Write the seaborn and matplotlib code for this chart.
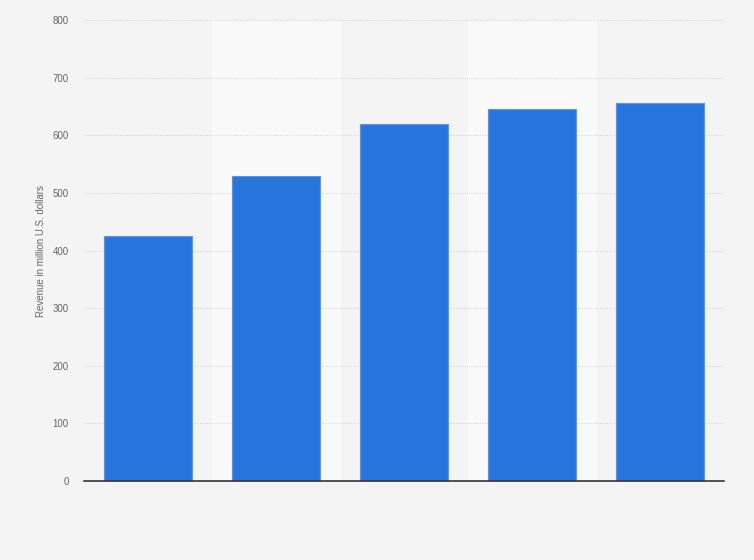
import matplotlib
matplotlib.use("Agg")
import matplotlib.pyplot as plt
import seaborn as sns
import pandas as pd

# Data (no category labels shown)
categories = ["A", "B", "C", "D", "E"]
revenue = [425, 530, 619, 646, 656]
y_ticks = [0, 100, 200, 300, 400, 500, 600, 700, 800]

df = pd.DataFrame({"category": categories, "revenue": revenue})

sns.set_style("white")
plt.rcParams['font.family'] = ['Liberation Sans', 'DejaVu Sans']

fig = plt.figure(figsize=(7.54, 5.60), dpi=100)
fig.patch.set_facecolor("#f4f4f4")
ax = fig.add_axes([0.1114, 0.141, 0.8488, 0.823])
ax.set_facecolor("#f4f4f4")

# alternating light bands behind the odd categories
for i in range(len(categories)):
    if i % 2 == 1:
        ax.axvspan(i - 0.5, i + 0.5, color="#f9f9f9", zorder=0)

sns.barplot(data=df, x="category", y="revenue", color="#2876dd",
            width=0.69, saturation=1, edgecolor="#5a95e6", linewidth=0.8,
            ax=ax, zorder=3)

ax.set_xlim(-0.5, len(categories) - 0.5)
ax.set_ylim(0, 800)
ax.set_yticks(y_ticks)
ax.yaxis.grid(True, linestyle=(0, (1, 1)), color="#d9d9d9", linewidth=0.8)
ax.set_axisbelow(True)
ax.tick_params(axis="y", length=0, labelsize=7, labelcolor="#666666", pad=11)
ax.tick_params(axis="x", length=0, labelbottom=False)
ax.set_xlabel("")
ax.set_ylabel("Revenue in million U.S. dollars", fontsize=7, color="#666666", labelpad=5)

for side in ["top", "right", "left"]:
    ax.spines[side].set_visible(False)
ax.spines["bottom"].set_color("#333333")
ax.spines["bottom"].set_linewidth(1.2)
ax.spines["bottom"].set_zorder(4)

fig.savefig("out.png", dpi=100, facecolor=fig.get_facecolor())
